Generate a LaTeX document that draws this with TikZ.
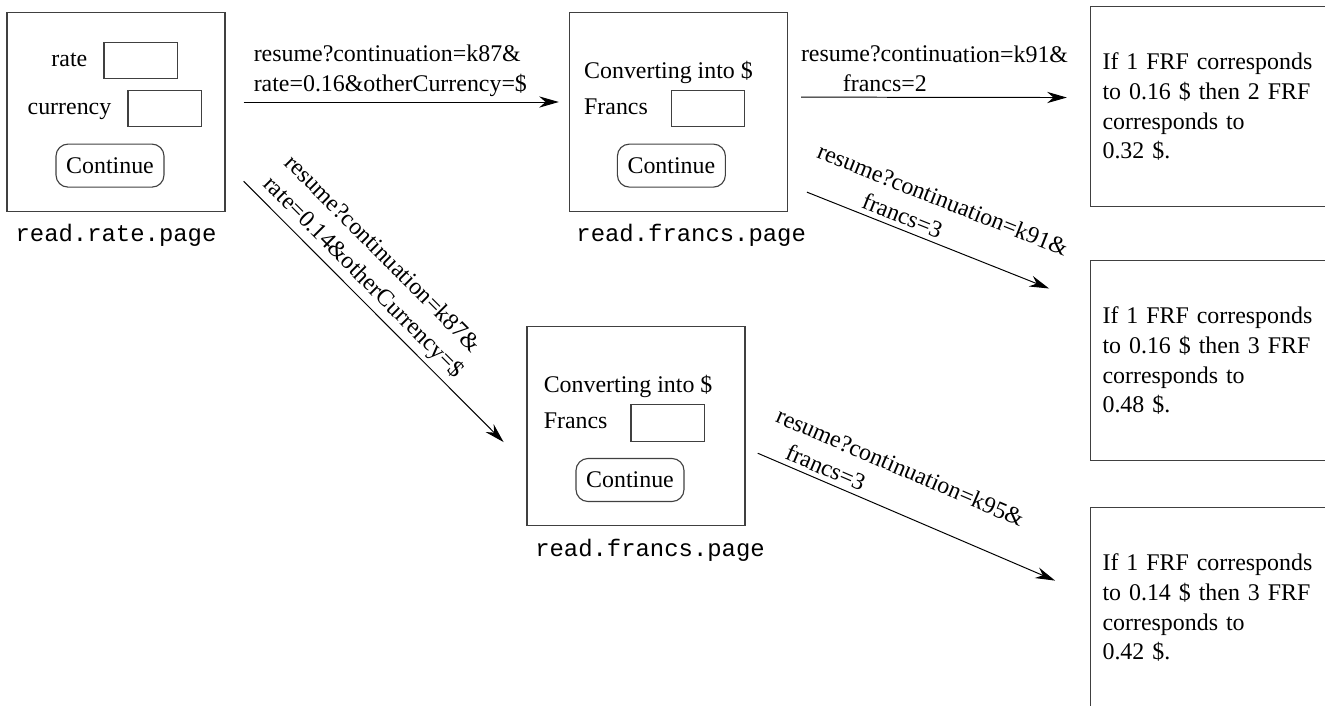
\documentclass[tikz,border=0pt]{standalone}
\usepackage{fontspec}
\setmainfont{Liberation Serif}
\setmonofont{Liberation Mono}
\usetikzlibrary{arrows.meta,positioning}
\tikzstyle{page} = [rectangle, minimum width=5.45cm, minimum height=4.975cm, draw=black!75, line width=0.8pt]
\tikzstyle{field} = [rectangle, minimum width=1.83cm, minimum height=0.92cm, inner sep=0pt, draw=black!75, line width=0.8pt]
\tikzstyle{fieldname} = [text height=1.95ex, text depth=0.2ex]
\tikzstyle{button} = [rectangle, rounded corners=0.3cm, minimum width=2.7cm, minimum height=1.075cm, inner sep=0pt, draw=black!75, line width=0.8pt]
\tikzstyle{pagename} = [font=\fontsize{17}{21}\ttfamily]
\tikzstyle{result} = [rectangle, anchor=north west, minimum height=5cm, text width=5.5cm, inner xsep=0.3cm, align=left, draw=black!75, line width=0.8pt]
\tikzstyle{arrow} = [line width=0.7pt, -{Stealth[length=14pt,width=8pt]}]
\tikzstyle{link} = [above, sloped, align=left]
\begin{document}
\begin{tikzpicture}[font=\fontsize{17}{21.3}\selectfont]
\useasboundingbox (0,0) rectangle (33.125,-17.625);
% first page
\node (page1) [page] at (2.9,-2.79) {};
\node (field1) [field, below right=0.75cm and 2.425cm of page1.north west] {};
\node (field2) [field, below right=1.95cm and 3.025cm of page1.north west] {};
\node (rate) [fieldname, left=0.28cm of field1] {rate};
\node (currency) [fieldname, left=0.28cm of field2] {currency};
\node (button1) [button, below right=3.3cm and 1.225cm of page1.north west] {Continue};
\node (name1) [pagename, below=0.2cm of page1] {read.rate.page};
% francs pages
\node (page2) [page] at (16.96,-2.79) {};
\node (field3) [field, below right=1.95cm and 2.55cm of page2.north west] {};
\node (francs2) [fieldname, left=0.45cm of field3] {Francs};
\node (convert2) [above=0.2cm of francs2.north west, anchor=south west] {Converting into \$};
\node (button2) [button, below right=3.3cm and 1.2cm of page2.north west] {Continue};
\node (name2) [pagename, below=0.2cm of page2, xshift=0.32cm] {read.francs.page};
\node (page3) [page] at (15.9,-10.65) {};
\node (field4) [field, below right=1.95cm and 2.6cm of page3.north west] {};
\node (francs3) [fieldname, left=0.45cm of field4] {Francs};
\node (convert3) [above=0.2cm of francs3.north west, anchor=south west] {Converting into \$};
\node (button3) [button, below right=3.3cm and 1.225cm of page3.north west] {Continue};
\node (name3) [pagename, below=0.2cm of page3, xshift=0.35cm] {read.francs.page};
% results
\node (result1) [result] at (27.25,-0.15) {If 1 FRF corresponds\\to 0.16 \$ then 2 FRF\\corresponds to\\0.32 \$.};
\node (result2) [result] at (27.25,-6.5) {If 1 FRF corresponds\\to 0.16 \$ then 3 FRF\\corresponds to\\0.48 \$.};
\node (result3) [result] at (27.25,-12.675) {If 1 FRF corresponds\\to 0.14 \$ then 3 FRF\\corresponds to\\0.42 \$.};
% requests
\draw [arrow, shorten <=0.45cm, shorten >=0.25cm] ([yshift=0.24cm]page1.east) -- node[pos=0.48, link] {resume?continuation=k87\&\\rate=0.16\&otherCurrency=\$} ([yshift=0.24cm]page2.west);
\draw [arrow, shorten <=0.64cm, shorten >=0.81cm] ([yshift=-1.2875cm]page1.east) -- node[pos=0.418, link] {resume?continuation=k87\&\\rate=0.14\&otherCurrency=\$} ([yshift=-0.975cm]page3.west);
\draw [arrow, shorten <=0.33cm, shorten >=0.58cm] ([yshift=0.3625cm]page2.east) -- node[pos=0.485, link] {resume?continuation=k91\&\\\hspace*{1.05cm}francs=2} ([yshift=0.225cm]result1.west);
\draw [arrow, shorten <=0.51cm, shorten >=1.1cm] ([yshift=-1.825cm]page2.east) -- node[pos=0.46, link] {resume?continuation=k91\&\\\hspace*{1.5cm}francs=3} ([yshift=1.395cm]result2.west);
\draw [arrow, shorten <=0.33cm, shorten >=0.95cm] ([yshift=-0.55cm]page3.east) -- node[pos=0.40, link] {resume?continuation=k95\&\\\hspace*{0.58cm}francs=3} ([yshift=0.3cm]result3.west);
\end{tikzpicture}
\end{document}
